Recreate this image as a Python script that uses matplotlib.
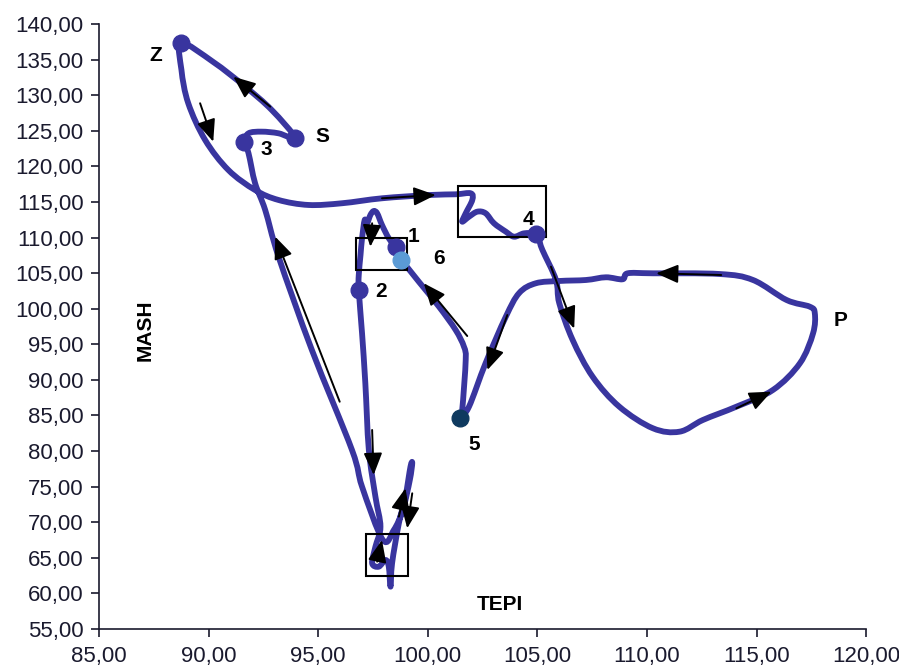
import matplotlib
matplotlib.use("Agg")
import matplotlib.pyplot as plt
import numpy as np
from matplotlib.patches import Rectangle, PathPatch
from matplotlib.path import Path
from matplotlib.ticker import FuncFormatter, MultipleLocator

plt.rcParams['font.family'] = ['Liberation Sans', 'DejaVu Sans']

# trajectory TEPI (x) / MASH (y), in drawing order 1 -> 6
tepi = [98.53, 98.22, 97.91, 97.69, 97.53, 97.38, 97.23, 97.12, 97.0, 96.93, 96.85, 96.85,
        97.0, 97.15, 97.31, 97.61, 97.84, 97.61, 97.46, 97.76, 98.07, 98.22, 98.30,
        98.37, 98.68, 98.98, 99.21, 99.29, 99.18, 98.86, 98.45, 97.95,
        97.0, 96.54, 94.71, 93.19, 92.58, 92.12, 91.82, 91.63,
        91.82, 92.42, 93.19, 93.95,
        92.88, 91.67, 90.21, 88.76,
        88.76, 89.07, 89.84, 90.90, 92.12, 93.19, 94.56, 96.08, 97.91, 100.05, 101.27,
        101.96, 102.03, 101.73, 101.57, 101.88, 102.26, 102.64, 103.02, 103.56, 103.94,
        104.40, 104.95,
        105.08, 105.23, 105.85, 106.0, 106.61, 107.52, 108.74, 110.27, 111.49, 112.55,
        114.08, 115.75, 116.98, 117.58, 117.66, 117.43, 116.37, 114.84, 113.32, 110.27,
        109.12, 108.89, 108.13, 107.22, 106.0, 104.93, 104.17, 103.56, 102.64, 101.88,
        101.47,
        101.57, 101.73, 101.65, 101.27, 100.51, 99.59, 98.80]
mash = [108.71, 109.89, 111.76, 113.40, 113.72, 113.16, 112.0, 112.46, 109.89, 107.54, 104.73, 102.6,
        96.54, 89.52, 80.15, 73.59, 69.37, 66.56, 64.23, 63.75, 64.69, 63.75, 60.94,
        64.23, 69.85, 73.59, 77.80, 78.28, 75.93, 71.72, 68.91, 67.50,
        74.99, 80.15, 94.2, 107.3, 113.87, 117.62, 121.83, 123.4,
        124.64, 124.87, 124.64, 124.0,
        127.91, 131.19, 134.66, 137.3,
        133.53, 128.86, 123.70, 119.48, 116.67, 115.27, 114.57, 114.81, 115.51, 115.97, 116.07,
        116.21, 115.27, 113.40, 112.22, 112.92, 113.63, 113.40, 112.0, 110.82, 110.11,
        110.59, 110.5,
        109.65, 108.25, 104.03, 100.76, 95.60, 90.45, 86.23, 83.20, 82.72, 84.36,
        86.23, 88.58, 92.33, 96.54, 99.35, 100.28, 101.22, 104.03, 104.87, 104.97,
        104.97, 104.13, 104.41, 104.03, 103.89, 103.57, 102.20, 98.87, 92.37, 86.23,
        84.69,
        85.77, 92.79, 94.66, 97.01, 100.28, 103.79, 106.84]

# labelled points
pt_names = ['Z', 'S', '3', '4', '1', '6', '2', '5']
pt_x = [88.76, 93.95, 91.63, 104.95, 98.53, 98.80, 96.85, 101.47]
pt_y = [137.3, 124.0, 123.4, 110.5, 108.71, 106.84, 102.6, 84.69]
pt_col = ['#39359f', '#39359f', '#39359f', '#39359f', '#39359f', '#5b9bd5', '#39359f', '#0f3a5f']

lab_txt = ['Z', 'S', '3', '4', '1', '6', '2', '5', 'P']
lab_x = [87.6, 95.2, 92.65, 104.6, 99.36, 100.5, 97.89, 102.1, 118.84]
lab_y = [135.6, 124.2, 122.3, 112.5, 110.1, 107.1, 102.4, 80.9, 98.4]

# direction arrows: tail x, tail y, head x, head y
arr_x0 = [92.81, 89.61, 97.91, 97.46, 101.80, 105.62, 113.39, 114.08, 103.63, 95.98, 97.46, 98.68, 99.29, 97.69]
arr_y0 = [128.38, 128.86, 115.51, 112.0, 96.16, 105.9, 104.73, 86.0, 99.11, 86.93, 82.96, 70.78, 74.06, 64.46]
arr_x1 = [91.13, 90.21, 100.36, 97.38, 99.82, 106.68, 110.42, 115.68, 102.72, 93.04, 97.53, 98.98, 99.06, 97.91]
arr_y1 = [132.59, 123.46, 115.97, 108.71, 103.57, 97.2, 104.97, 88.34, 91.39, 110.11, 76.64, 74.77, 69.15, 67.5]

# boxes: x0, y0, x1, y1
box_x0 = [101.39, 96.71, 97.2]
box_y0 = [110.05, 105.4, 62.5]
box_x1 = [105.39, 99.04, 99.1]
box_y1 = [117.2, 110.0, 68.3]


def smooth_path(x, y):
    # smoothed line through the points (Catmull-Rom drawn as bezier segments)
    p = np.column_stack([x, y])
    p = np.vstack([p[0], p, p[-1]])
    verts = [p[1]]
    codes = [Path.MOVETO]
    for i in range(1, len(p) - 2):
        c1 = p[i] + (p[i + 1] - p[i - 1]) / 6.0
        c2 = p[i + 1] - (p[i + 2] - p[i]) / 6.0
        verts += [c1, c2, p[i + 1]]
        codes += [Path.CURVE4] * 3
    return Path(verts, codes)


fig = plt.figure(figsize=(8.99, 6.66), dpi=100)
ax = fig.add_axes([0.1102, 0.0556, 0.8532, 0.9084])

ax.add_patch(PathPatch(smooth_path(tepi, mash), fill=False, ec='#39359f', lw=4.2,
                       joinstyle='round', capstyle='round', zorder=2))

for i in range(len(pt_names)):
    ax.plot(pt_x[i], pt_y[i], 'o', ms=12, color=pt_col[i], mec=pt_col[i], zorder=4)

for i in range(len(lab_txt)):
    ax.text(lab_x[i], lab_y[i], lab_txt[i], fontsize=15, fontweight='bold',
            ha='center', va='center', zorder=5)

for i in range(len(arr_x0)):
    ax.annotate('', xy=(arr_x1[i], arr_y1[i]), xytext=(arr_x0[i], arr_y0[i]),
                arrowprops=dict(arrowstyle='-|>,head_length=0.9,head_width=0.38',
                                color='black', lw=1.4, mutation_scale=15,
                                shrinkA=0, shrinkB=0), zorder=3)

for i in range(len(box_x0)):
    ax.add_patch(Rectangle((box_x0[i], box_y0[i]), box_x1[i] - box_x0[i], box_y1[i] - box_y0[i],
                           fill=False, ec='black', lw=1.5, zorder=3))

ax.text(87.1, 97.0, 'MASH', rotation=90, fontsize=15, fontweight='bold', ha='center', va='center')
ax.text(103.3, 58.4, 'TEPI', fontsize=15, fontweight='bold', ha='center', va='center')

ax.set_xlim(85, 120)
ax.set_ylim(55, 140)
ax.xaxis.set_major_locator(MultipleLocator(5))
ax.yaxis.set_major_locator(MultipleLocator(5))
fmt = FuncFormatter(lambda v, p: f"{v:.2f}".replace('.', ','))
ax.xaxis.set_major_formatter(fmt)
ax.yaxis.set_major_formatter(fmt)
ax.tick_params(labelsize=16, length=6, width=1.2, direction='out', colors='#1a1a2e')
ax.tick_params(axis='x', pad=6)
ax.tick_params(axis='y', pad=5)
for s in ['top', 'right']:
    ax.spines[s].set_visible(False)
for s in ['left', 'bottom']:
    ax.spines[s].set_linewidth(1.2)
    ax.spines[s].set_color('#1a1a2e')

fig.savefig('out.png', dpi=100)
